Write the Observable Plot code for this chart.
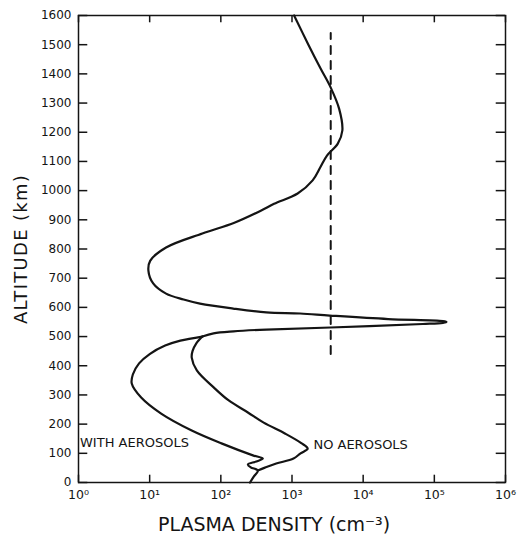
<!DOCTYPE html>
<html><head><meta charset="utf-8">
<script src="https://cdn.jsdelivr.net/npm/d3@7"></script>
<script src="https://cdn.jsdelivr.net/npm/@observablehq/plot@0.6"></script>
<style>body{margin:0;background:#fff}</style>
</head><body><div id="chart"></div>
<script>
// Common profile (altitude km, plasma density cm^-3), from 1600 km down to the split
const upperAlt = [1600, 1500, 1420, 1353, 1280, 1206, 1161, 1120, 1080, 1035, 990, 955, 932, 890, 853, 805, 760, 726, 682, 647, 627, 613, 596, 583, 579, 572, 560, 553, 550, 547, 543, 531, 524, 518, 511, 500];
const upperDen = [1070, 1700, 2500, 3500, 4600, 5100, 4400, 3100, 2500, 1950, 1200, 560, 370, 155, 55, 17, 10.2, 9.6, 11.2, 17, 30, 51, 149, 435, 1300, 3400, 22400, 132000, 148000, 132000, 69000, 3470, 437, 151, 79, 55];
// With aerosols branch
const withAlt = [500, 486, 469, 440, 408, 370, 339, 291, 236, 178, 134, 93, 82, 72, 62, 52, 41, 20, 0];
const withDen = [55, 27, 16.5, 10, 7.1, 5.8, 5.6, 7.6, 14.5, 39, 102, 282, 389, 316, 240, 263, 331, 290, 257];
// No aerosols branch
const noAlt = [500, 476, 450, 428, 384, 325, 281, 240, 205, 168, 135, 116, 100, 82, 65, 51, 41];
const noDen = [55, 45, 40, 39, 46, 80, 129, 240, 400, 794, 1350, 1660, 1320, 1050, 600, 417, 331];
// Dashed reference line
const dashDen = [3500, 3500];
const dashAlt = [440, 1540];
// Curve labels
const labelText = ["WITH AEROSOLS", "NO AEROSOLS"];
const labelDen = [1.05, 2000];
const labelAlt = [137, 130];
// Ticks
const yTicks = [0, 100, 200, 300, 400, 500, 600, 700, 800, 900, 1000, 1100, 1200, 1300, 1400, 1500, 1600];
const xTicks = [1, 10, 100, 1000, 10000, 100000, 1000000];
const xTickLabels = ["10\u2070", "10\u00B9", "10\u00B2", "10\u00B3", "10\u2074", "10\u2075", "10\u2076"];
const xLabel = "PLASMA DENSITY (cm\u207B\u00B3)";
const yLabel = "ALTITUDE (km)";

const zip = (a, d) => a.map((v, i) => ({a: v, d: d[i]}));
const ink = "#141414";
const W = 519, H = 541, mL = 78, mR = 14, mT = 15, mB = 59;
const xMin = 1, xMax = 1e6, yMin = 0, yMax = 1600;
// inward tick lengths, expressed in the scales' own units (~8-9 px)
const tickLogLen = 1.35, tickAltLen = 25;

const chart = Plot.plot({
  width: W, height: H,
  marginLeft: mL, marginRight: mR, marginTop: mT, marginBottom: mB,
  style: {fontFamily: "DejaVu Sans", fontSize: "12px", color: ink, background: "#fff"},
  x: {type: "log", domain: [xMin, xMax]},
  y: {domain: [yMin, yMax]},
  marks: [
    Plot.frame({stroke: ink, strokeWidth: 1.5}),
    Plot.axisY({ticks: yTicks, anchor: "left", tickSize: 0, tickPadding: 7, label: null, fontSize: 12, tickFormat: d => String(d)}),
    Plot.axisX({ticks: xTicks, anchor: "bottom", tickSize: 0, tickPadding: 8, label: null, fontSize: 12.5,
      tickFormat: d => xTickLabels[Math.round(Math.log10(d))]}),
    // inward tick marks on all four sides
    Plot.ruleY(yTicks, {y: d => d, x1: xMin, x2: xMin * tickLogLen, stroke: ink, strokeWidth: 1.5}),
    Plot.ruleY(yTicks, {y: d => d, x1: xMax / tickLogLen, x2: xMax, stroke: ink, strokeWidth: 1.5}),
    Plot.ruleX(xTicks, {x: d => d, y1: yMin, y2: yMin + tickAltLen, stroke: ink, strokeWidth: 1.5}),
    Plot.ruleX(xTicks, {x: d => d, y1: yMax - tickAltLen, y2: yMax, stroke: ink, strokeWidth: 1.5}),
    Plot.line(zip(dashAlt, dashDen), {x: "d", y: "a", stroke: ink, strokeWidth: 2, strokeDasharray: "8,7"}),
    Plot.line(zip(upperAlt, upperDen), {x: "d", y: "a", curve: "catmull-rom", stroke: ink, strokeWidth: 2.2}),
    Plot.line(zip(withAlt, withDen), {x: "d", y: "a", curve: "catmull-rom", stroke: ink, strokeWidth: 2.2}),
    Plot.line(zip(noAlt, noDen), {x: "d", y: "a", curve: "catmull-rom", stroke: ink, strokeWidth: 2.2}),
    Plot.text(labelText.map((t, i) => ({t, d: labelDen[i], a: labelAlt[i]})),
      {x: "d", y: "a", text: "t", textAnchor: "start", fontSize: 13, fill: ink}),
    Plot.text([xLabel], {frameAnchor: "bottom", textAnchor: "middle", dy: 42, dx: -18, text: d => d, fontSize: 19, lineAnchor: "middle", fill: ink}),
    Plot.text([yLabel], {frameAnchor: "left", textAnchor: "middle", dx: -57, rotate: -90, text: d => d, fontSize: 18, lineAnchor: "middle", fill: ink})
  ]
});
d3.select(chart).selectAll("text").filter(function() { return this.textContent === yLabel; })
  .attr("letter-spacing", "1.3px");
document.getElementById("chart").appendChild(chart);
</script>
</body></html>
